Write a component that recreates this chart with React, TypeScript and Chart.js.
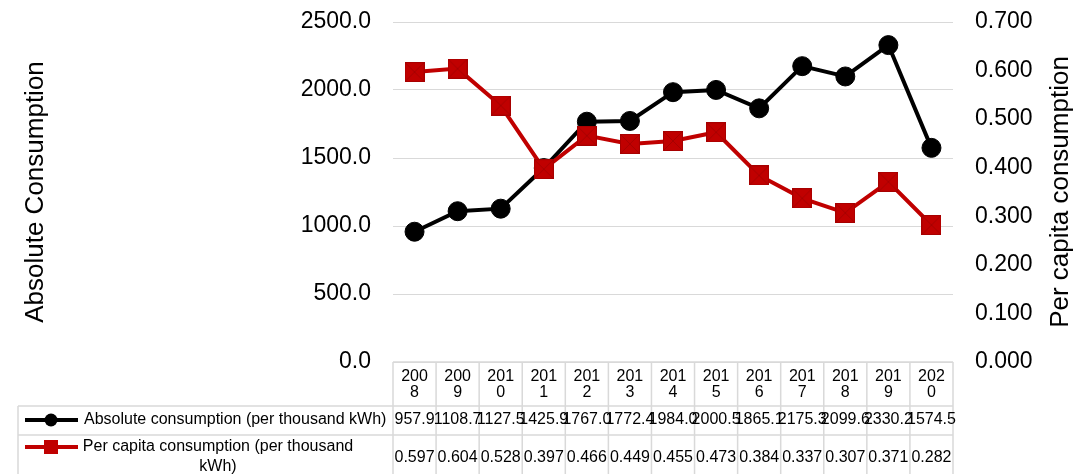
import React, { useEffect, useRef } from "react";
import { Chart, registerables } from "chart.js";

Chart.register(...registerables);

const years = ["2008", "2009", "2010", "2011", "2012", "2013", "2014", "2015", "2016", "2017", "2018", "2019", "2020"];
const absoluteConsumption = [957.9, 1108.7, 1127.5, 1425.9, 1767.0, 1772.4, 1984.0, 2000.5, 1865.1, 2175.3, 2099.6, 2330.2, 1574.5];
const perCapitaConsumption = [0.597, 0.604, 0.528, 0.397, 0.466, 0.449, 0.455, 0.473, 0.384, 0.337, 0.307, 0.371, 0.282];
const seriesNames = ["Absolute consumption (per thousand kWh)", "Per capita consumption (per thousand kWh)"];
const seriesLabelLines = [["Absolute consumption (per thousand kWh)"], ["Per capita consumption (per thousand", "kWh)"]];
const leftAxisTitle = "Absolute Consumption";
const rightAxisTitle = "Per capita consumption";
const leftAxisMax = 2500;
const leftAxisStep = 500;
const rightAxisMax = 0.7;
const rightAxisStep = 0.1;

const FONT = "'Liberation Sans', Arial, sans-serif";
const BLACK = "#000000";
const RED = "#c00000";
const GRID = "#d9d9d9";

function makeSquare(size: number, fill: string, cross: string) {
  const c = document.createElement("canvas");
  c.width = size;
  c.height = size;
  const g = c.getContext("2d")!;
  g.fillStyle = fill;
  g.fillRect(0, 0, size, size);
  g.strokeStyle = cross;
  g.lineWidth = 1;
  g.beginPath();
  g.moveTo(1, 1);
  g.lineTo(size - 1, size - 1);
  g.moveTo(size - 1, 1);
  g.lineTo(1, size - 1);
  g.stroke();
  g.strokeRect(0.5, 0.5, size - 1, size - 1);
  return c;
}

const tablePlugin = {
  id: "dataTable",
  afterDraw(chart: any) {
    const ctx = chart.ctx as CanvasRenderingContext2D;
    const xs = chart.scales.x;
    const area = chart.chartArea;
    const n = years.length;
    const w = xs.getPixelForValue(1) - xs.getPixelForValue(0);
    const colLeft = xs.getPixelForValue(0) - w / 2;
    const colRight = xs.getPixelForValue(n - 1) + w / 2;
    const top = area.bottom;
    const headBottom = 406;
    const row1Bottom = 435;
    const tableBottom = 480;
    const legendLeft = 18;

    ctx.save();
    ctx.strokeStyle = GRID;
    ctx.lineWidth = 1.5;
    ctx.beginPath();
    for (let i = 0; i <= n; i++) {
      const x = colLeft + i * w;
      ctx.moveTo(x, top);
      ctx.lineTo(x, tableBottom);
    }
    ctx.moveTo(colLeft, top);
    ctx.lineTo(colRight, top);
    ctx.moveTo(legendLeft, headBottom);
    ctx.lineTo(colRight, headBottom);
    ctx.moveTo(legendLeft, row1Bottom);
    ctx.lineTo(colRight, row1Bottom);
    ctx.moveTo(legendLeft, headBottom);
    ctx.lineTo(legendLeft, tableBottom);
    ctx.stroke();

    // legend keys
    const r1y = 420;
    const r2y = 447;
    ctx.lineWidth = 4;
    ctx.strokeStyle = BLACK;
    ctx.beginPath();
    ctx.moveTo(25, r1y);
    ctx.lineTo(78, r1y);
    ctx.stroke();
    ctx.fillStyle = BLACK;
    ctx.beginPath();
    ctx.arc(51, r1y, 6.5, 0, Math.PI * 2);
    ctx.fill();

    ctx.strokeStyle = RED;
    ctx.beginPath();
    ctx.moveTo(25, r2y);
    ctx.lineTo(78, r2y);
    ctx.stroke();
    ctx.fillStyle = RED;
    ctx.fillRect(44, r2y - 7, 14, 14);

    // texts
    ctx.fillStyle = BLACK;
    ctx.font = `16px ${FONT}`;
    ctx.textBaseline = "middle";
    ctx.textAlign = "left";
    ctx.fillText(seriesLabelLines[0][0], 84, r1y);
    ctx.textAlign = "center";
    ctx.fillText(seriesLabelLines[1][0], 218, 447);
    ctx.fillText(seriesLabelLines[1][1], 218, 467);

    for (let i = 0; i < n; i++) {
      const cx = xs.getPixelForValue(i);
      ctx.fillText(absoluteConsumption[i].toFixed(1), cx, r1y);
      ctx.fillText(perCapitaConsumption[i].toFixed(3), cx, 458);
    }

    // axis titles
    ctx.font = `26px ${FONT}`;
    ctx.textAlign = "center";
    ctx.textBaseline = "middle";
    const midY = (area.top + area.bottom) / 2;
    ctx.save();
    ctx.translate(36, midY);
    ctx.rotate(-Math.PI / 2);
    ctx.fillText(leftAxisTitle, 0, 0);
    ctx.restore();
    ctx.save();
    ctx.translate(1061, midY);
    ctx.rotate(-Math.PI / 2);
    ctx.fillText(rightAxisTitle, 0, 0);
    ctx.restore();
    ctx.restore();
  },
};

export default function App() {
  const ref = useRef<HTMLCanvasElement | null>(null);

  useEffect(() => {
    if (!ref.current) return;
    Chart.defaults.font.family = FONT;
    const square = makeSquare(20, RED, "rgba(120,0,0,0.35)");
    const chart = new Chart(ref.current, {
      type: "line",
      data: {
        labels: years,
        datasets: [
          {
            label: seriesNames[0],
            data: absoluteConsumption,
            yAxisID: "y",
            borderColor: BLACK,
            backgroundColor: BLACK,
            borderWidth: 4,
            pointRadius: 9.5,
            pointBackgroundColor: BLACK,
            pointBorderColor: BLACK,
            pointBorderWidth: 1,
            order: 1,
            clip: false as any,
          },
          {
            label: seriesNames[1],
            data: perCapitaConsumption,
            yAxisID: "y1",
            borderColor: RED,
            backgroundColor: RED,
            borderWidth: 4,
            pointStyle: square as any,
            pointRadius: 10,
            order: 0,
            clip: false as any,
          },
        ],
      },
      options: {
        animation: false,
        responsive: false,
        maintainAspectRatio: false,
        layout: { padding: { top: 22, left: 0, right: 0, bottom: 0 } },
        plugins: { legend: { display: false }, tooltip: { enabled: false } },
        scales: {
          x: {
            type: "category",
            offset: true,
            grid: { display: false, drawTicks: false },
            border: { display: false },
            ticks: {
              autoSkip: false,
              maxRotation: 0,
              minRotation: 0,
              padding: 7,
              color: BLACK,
              font: { size: 16, lineHeight: 1 },
              callback: (_v: any, i: number) => [years[i].slice(0, 3), years[i].slice(3)],
            },
            afterFit: (s: any) => {
              s.height = 112;
            },
          },
          y: {
            position: "left",
            min: 0,
            max: leftAxisMax,
            grid: { color: GRID, lineWidth: 1, drawTicks: true, tickLength: 22, tickColor: "rgba(0,0,0,0)" },
            border: { display: false },
            ticks: {
              stepSize: leftAxisStep,
              padding: 0,
              color: BLACK,
              font: { size: 23 },
              callback: (v: any) => Number(v).toFixed(1),
            },
            afterFit: (s: any) => {
              s.width = 393;
            },
          },
          y1: {
            position: "right",
            min: 0,
            max: rightAxisMax,
            grid: { display: false, drawTicks: true, tickLength: 22 },
            border: { display: false },
            ticks: {
              stepSize: rightAxisStep,
              padding: 0,
              color: BLACK,
              font: { size: 23 },
              callback: (v: any) => Number(v).toFixed(3),
            },
            afterFit: (s: any) => {
              s.width = 122;
            },
          },
        },
      },
      plugins: [tablePlugin],
    });
    return () => chart.destroy();
  }, []);

  return (
    <div style={{ position: "fixed", left: 0, top: 0, width: 1075, height: 474, background: "#fff" }}>
      <canvas ref={ref} width={1075} height={474} style={{ display: "block" }} />
    </div>
  );
}
